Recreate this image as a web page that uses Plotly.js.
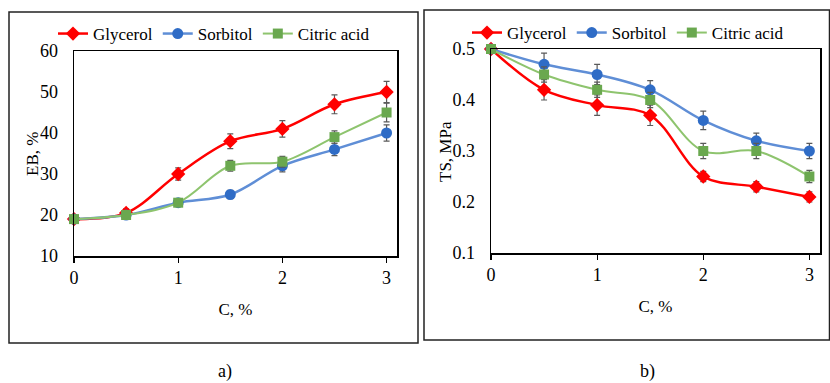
<!DOCTYPE html>
<html>
<head>
<meta charset="utf-8">
<script src="https://cdn.plot.ly/plotly-3.0.1.min.js"></script>
<style>html,body{margin:0;padding:0;background:#fff;}#chart{width:830px;height:383px;}</style>
</head>
<body>
<div id="chart"></div>
<script>
// Concentration, %
const conc = [0, 0.5, 1, 1.5, 2, 2.5, 3];
const seriesNames = ["Glycerol", "Sorbitol", "Citric acid"];

// (a) Elongation at break, %
const ebGlycerol = [19, 20.5, 30, 38, 41, 47, 50];
const ebGlycerolErr = [0.5, 1, 1.5, 1.8, 2, 2.3, 2.6];
const ebSorbitol = [19, 20, 23, 25, 32, 36, 40];
const ebSorbitolErr = [0.5, 0.6, 0.8, 1, 1.5, 1.5, 2];
const ebCitric = [19, 20, 23, 32, 33, 39, 45];
const ebCitricErr = [0.5, 0.6, 0.8, 1.3, 1.3, 1.5, 2.3];

// (b) Tensile strength, MPa
const tsGlycerol = [0.5, 0.42, 0.39, 0.37, 0.25, 0.23, 0.21];
const tsGlycerolErr = [0.005, 0.02, 0.02, 0.02, 0.01, 0.01, 0.01];
const tsSorbitol = [0.5, 0.47, 0.45, 0.42, 0.36, 0.32, 0.30];
const tsSorbitolErr = [0.005, 0.022, 0.02, 0.018, 0.018, 0.015, 0.015];
const tsCitric = [0.5, 0.45, 0.42, 0.40, 0.30, 0.30, 0.25];
const tsCitricErr = [0.005, 0.015, 0.015, 0.015, 0.015, 0.015, 0.012];

const xTicks = [0, 1, 2, 3];
const ebTicks = [10, 20, 30, 40, 50, 60];
const tsTicks = [0.1, 0.2, 0.3, 0.4, 0.5];
const yTitles = ["EB, %", "TS, MPa"];

const styles = [
  {line: "#FF0000", marker: "#FF0000", symbol: "diamond", size: 11, width: 2.5},
  {line: "#5F8ED6", marker: "#2F6CC6", symbol: "circle", size: 11, width: 2.5},
  {line: "#8EC46E", marker: "#6AA84F", symbol: "square", size: 10, width: 2}
];

function mk(y, err, i, xa, ya, leg) {
  const s = styles[i];
  return {
    x: conc, y: y, name: seriesNames[i], type: "scatter", mode: "lines+markers",
    xaxis: xa, yaxis: ya, legend: leg, cliponaxis: false,
    line: {color: s.line, width: s.width, shape: "spline", smoothing: 1},
    marker: {color: s.marker, symbol: s.symbol, size: s.size},
    error_y: {type: "data", array: err, visible: true, color: "#5a5a5a", thickness: 1.2, width: 3}
  };
}

const traces = [
  mk(ebGlycerol, ebGlycerolErr, 0, "x", "y", "legend"),
  mk(ebSorbitol, ebSorbitolErr, 1, "x", "y", "legend"),
  mk(ebCitric, ebCitricErr, 2, "x", "y", "legend"),
  mk(tsGlycerol, tsGlycerolErr, 0, "x2", "y2", "legend2"),
  mk(tsSorbitol, tsSorbitolErr, 1, "x2", "y2", "legend2"),
  mk(tsCitric, tsCitricErr, 2, "x2", "y2", "legend2")
];

const H = 383, W = 830;
const px = v => v / W;
const py = v => 1 - v / H;
const font = {family: "Liberation Serif", color: "#000"};

function xAxis(dom, anchor) {
  return {
    domain: dom, anchor: anchor, range: [0, 3.1], tickvals: xTicks,
    showline: true, linecolor: "#000", linewidth: 1.5, mirror: true,
    ticks: "outside", ticklen: 5, tickcolor: "#000", tickwidth: 1.2,
    showgrid: false, zeroline: false,
    tickfont: Object.assign({size: 18}, font),
    title: {text: "C, %", font: Object.assign({size: 17}, font), standoff: 16}
  };
}
function yAxis(dom, anchor, range, ticks, fmt) {
  return {
    domain: dom, anchor: anchor, range: range, tickvals: ticks, tickformat: fmt,
    showline: true, linecolor: "#000", linewidth: 1.5, mirror: true,
    ticks: "", showgrid: false, zeroline: false, ticklabelstandoff: 11,
    tickfont: Object.assign({size: 18}, font)
  };
}

const layout = {
  width: W, height: H,
  margin: {l: 0, r: 0, t: 0, b: 0},
  paper_bgcolor: "#fff", plot_bgcolor: "#fff",
  showlegend: true,
  xaxis: xAxis([px(74), px(397)], "y"),
  yaxis: yAxis([py(256), py(51)], "x", [10, 60], ebTicks, "d"),
  xaxis2: xAxis([px(491), px(820)], "y2"),
  yaxis2: yAxis([py(253), py(49)], "x2", [0.1, 0.5], tsTicks, ".1f"),
  legend: {
    orientation: "h", x: px(53), y: py(34), xanchor: "left", yanchor: "middle",
    font: Object.assign({size: 17}, font), bgcolor: "rgba(0,0,0,0)",
    itemwidth: 30, tracegroupgap: 0
  },
  legend2: {
    orientation: "h", x: px(467), y: py(33), xanchor: "left", yanchor: "middle",
    font: Object.assign({size: 17}, font), bgcolor: "rgba(0,0,0,0)",
    itemwidth: 30, tracegroupgap: 0
  },
  shapes: [
    {type: "rect", xref: "paper", yref: "paper", x0: px(9), x1: px(418), y0: py(343), y1: py(12),
     line: {color: "#222", width: 1.5}, fillcolor: "rgba(0,0,0,0)", layer: "below"},
    {type: "rect", xref: "paper", yref: "paper", x0: px(424), x1: px(829.5), y0: py(340), y1: py(10),
     line: {color: "#222", width: 1.5}, fillcolor: "rgba(0,0,0,0)", layer: "below"}
  ],
  annotations: [
    {text: yTitles[0], xref: "paper", yref: "paper", x: px(32), y: py(154), showarrow: false,
     textangle: -90, xanchor: "center", yanchor: "middle", font: Object.assign({size: 17}, font)},
    {text: yTitles[1], xref: "paper", yref: "paper", x: px(445), y: py(152), showarrow: false,
     textangle: -90, xanchor: "center", yanchor: "middle", font: Object.assign({size: 17}, font)},
    {text: "a)", xref: "paper", yref: "paper", x: px(225), y: py(371), showarrow: false,
     xanchor: "center", yanchor: "middle", font: Object.assign({size: 18}, font)},
    {text: "b)", xref: "paper", yref: "paper", x: px(647), y: py(371), showarrow: false,
     xanchor: "center", yanchor: "middle", font: Object.assign({size: 18}, font)}
  ]
};

Plotly.newPlot("chart", traces, layout, {displayModeBar: false, staticPlot: true});
</script>
</body>
</html>
